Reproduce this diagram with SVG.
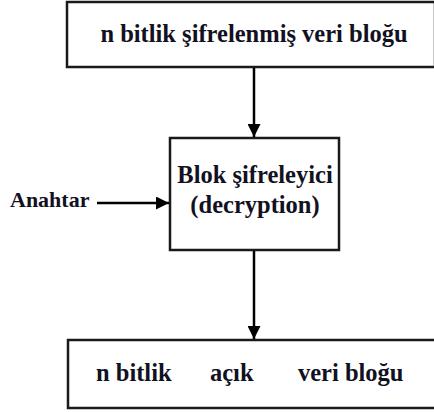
<svg xmlns="http://www.w3.org/2000/svg" width="434" height="412" viewBox="0 0 434 412">
  <style>
    .box { fill: #ffffff; stroke: #1a1a1a; stroke-width: 2.5; }
    .lbl { font-family: "Liberation Serif", "Times New Roman", serif; font-weight: bold; font-size: 24.5px; fill: #111122; }
    .key { font-size: 22px; }
    .edge { stroke: #000000; stroke-width: 2.5; fill: none; }
  </style>
  <defs>
    <marker id="arrow" viewBox="0 0 10 10" refX="10" refY="5" markerWidth="5.2" markerHeight="5.2" markerUnits="strokeWidth" orient="auto">
      <path d="M0,0 L10,5 L0,10 z" fill="#000000"/>
    </marker>
  </defs>
  <rect width="434" height="412" fill="#ffffff"/>

  <g id="encrypted-block">
    <rect class="box" x="67" y="2" width="368" height="65"/>
    <text class="lbl" x="254" y="42" text-anchor="middle">n bitlik şifrelenmiş veri bloğu</text>
  </g>

  <g id="block-cipher">
    <rect class="box" x="170" y="138" width="169" height="112"/>
    <text class="lbl" x="255" y="183" text-anchor="middle">Blok şifreleyici</text>
    <text class="lbl" x="255" y="213" text-anchor="middle">(decryption)</text>
  </g>

  <g id="key">
    <text class="lbl key" x="10" y="207">Anahtar</text>
  </g>

  <g id="plain-block">
    <rect class="box" x="68" y="340" width="368" height="68"/>
    <text class="lbl" x="96" y="381">n bitlik</text>
    <text class="lbl" x="210" y="381">açık</text>
    <text class="lbl" x="298" y="381">veri bloğu</text>
  </g>

  <g id="connectors">
    <line class="edge" x1="254" y1="68" x2="254" y2="137" marker-end="url(#arrow)"/>
    <line class="edge" x1="97" y1="203" x2="169" y2="203" marker-end="url(#arrow)"/>
    <line class="edge" x1="254" y1="251" x2="254" y2="339" marker-end="url(#arrow)"/>
  </g>
</svg>
